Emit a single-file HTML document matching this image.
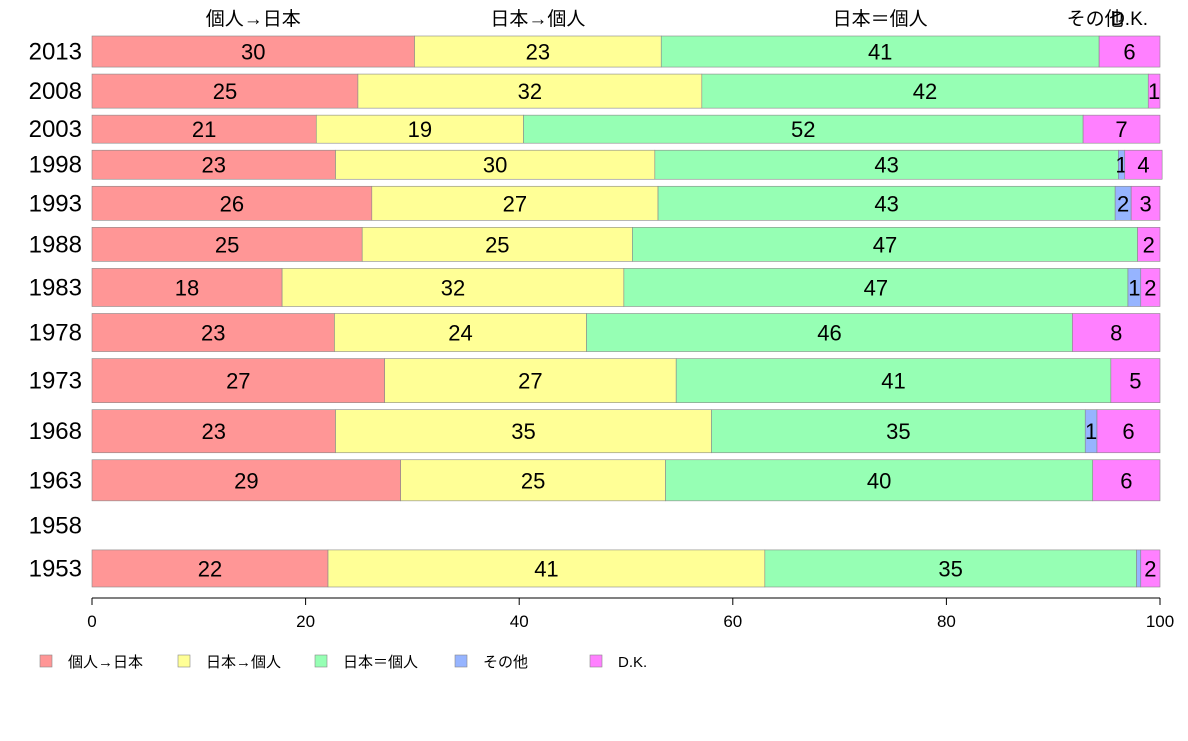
<!DOCTYPE html>
<html><head><meta charset="utf-8">
<style>
body{margin:0;background:#fff;font-family:"Liberation Sans","Noto Sans CJK JP",sans-serif;}
svg text{font-family:"Liberation Sans","Noto Sans CJK JP",sans-serif;}
</style></head>
<body>
<svg id="chart" width="1188" height="736" viewBox="0 0 1188 736" xmlns="http://www.w3.org/2000/svg"></svg>
<script>
const years = ["2013","2008","2003","1998","1993","1988","1983","1978","1973","1968","1963","1958","1953"];
const seriesNames = ["個人→日本","日本→個人","日本＝個人","その他","D.K."];
const kojinNihon = [30.2,24.9,21.0,22.8,26.2,25.3,17.8,22.7,27.4,22.8,28.9,0,22.1];
const nihonKojin = [23.1,32.2,19.4,29.9,26.8,25.3,32.0,23.6,27.3,35.2,24.8,0,40.9];
const nihonEqual = [41.0,41.8,52.4,43.4,42.8,47.3,47.2,45.5,40.7,35.0,40.0,0,34.8];
const sonota = [0,0,0,0.6,1.5,0,1.2,0,0,1.1,0,0,0.4];
const dk = [5.7,1.1,7.2,3.5,2.7,2.1,1.8,8.2,4.6,5.9,6.3,0,1.8];
const rowWeights = [31,34,28,29,34,34,38,38,44,43,41,35,37];
const xTicks = [0,20,40,60,80,100];
const series = [kojinNihon,nihonKojin,nihonEqual,sonota,dk];
const colors = ["#ff9696","#ffff96","#96ffb4","#96b4ff","#ff80ff"];

const svg = document.getElementById('chart');
const NS = "http://www.w3.org/2000/svg";
function mk(tag, attrs, text){const e=document.createElementNS(NS,tag);for(const k in attrs)e.setAttribute(k,attrs[k]);if(text!==undefined)e.textContent=text;svg.appendChild(e);return e;}
const X0=92, X1=1160, Y0=36, GAP=7;
const xs = v => X0 + (X1-X0)*v/100;
const totalW = rowWeights.reduce((a,b)=>a+b,0);
const plotH = 587 - Y0 - GAP*(years.length-1);
const hs = w => w*plotH/totalW;

let y = Y0;
years.forEach((yr,i)=>{
  const h = hs(rowWeights[i]);
  const yl = mk('text',{x:82,y:y+h/2+8,'text-anchor':'end','font-size':24,fill:'#000'},yr);
  
  
  let cum = 0;
  series.forEach((s,j)=>{
    const v = s[i];
    if(v<=0){return;}
    const r = mk('rect',{x:xs(cum),y:y,width:xs(cum+v)-xs(cum),height:h,fill:colors[j],stroke:'#888','stroke-width':0.6});
    
    
    const lab = Math.round(v);
    if(lab>0){
      const t = mk('text',{x:(xs(cum)+xs(cum+v))/2,y:y+h/2+8,'text-anchor':'middle','font-size':22,fill:'#000'},String(lab));
      
      
    }
    if(i===0){
      const ht = mk('text',{x:(xs(cum)+xs(cum+v))/2,y:25,'text-anchor':'middle','font-size':19,fill:'#000'},seriesNames[j]);
      
      
    }
    cum += v;
  });
  // top labels for series with zero in first row
  y += h + GAP;
});
// header labels for その他 (absent in 2013) placed at its boundary
{
  let c = kojinNihon[0]+nihonKojin[0]+nihonEqual[0];
  if(sonota[0]<=0){
    const ht = mk('text',{x:xs(c)-4,y:25,'text-anchor':'middle','font-size':19,fill:'#000'},seriesNames[3]);
    
    
  }
}
// x axis
const ax = mk('line',{x1:X0,x2:X1,y1:598,y2:598,stroke:'#000','stroke-width':1});


xTicks.forEach(t=>{
  const l = mk('line',{x1:xs(t),x2:xs(t),y1:598,y2:605,stroke:'#000','stroke-width':1});
  
  
  const tx = mk('text',{x:xs(t),y:627,'text-anchor':'middle','font-size':17,fill:'#000'},String(t));
  
  
});
// legend
const legX = [40,178,315,455,590];
seriesNames.forEach((n,j)=>{
  const r = mk('rect',{x:legX[j],y:655,width:12,height:12,fill:colors[j],stroke:'#888','stroke-width':0.6});
  
  
  const t = mk('text',{x:legX[j]+28,y:667,'font-size':15,fill:'#000'},n);
  
  
});
</script>
</body></html>
